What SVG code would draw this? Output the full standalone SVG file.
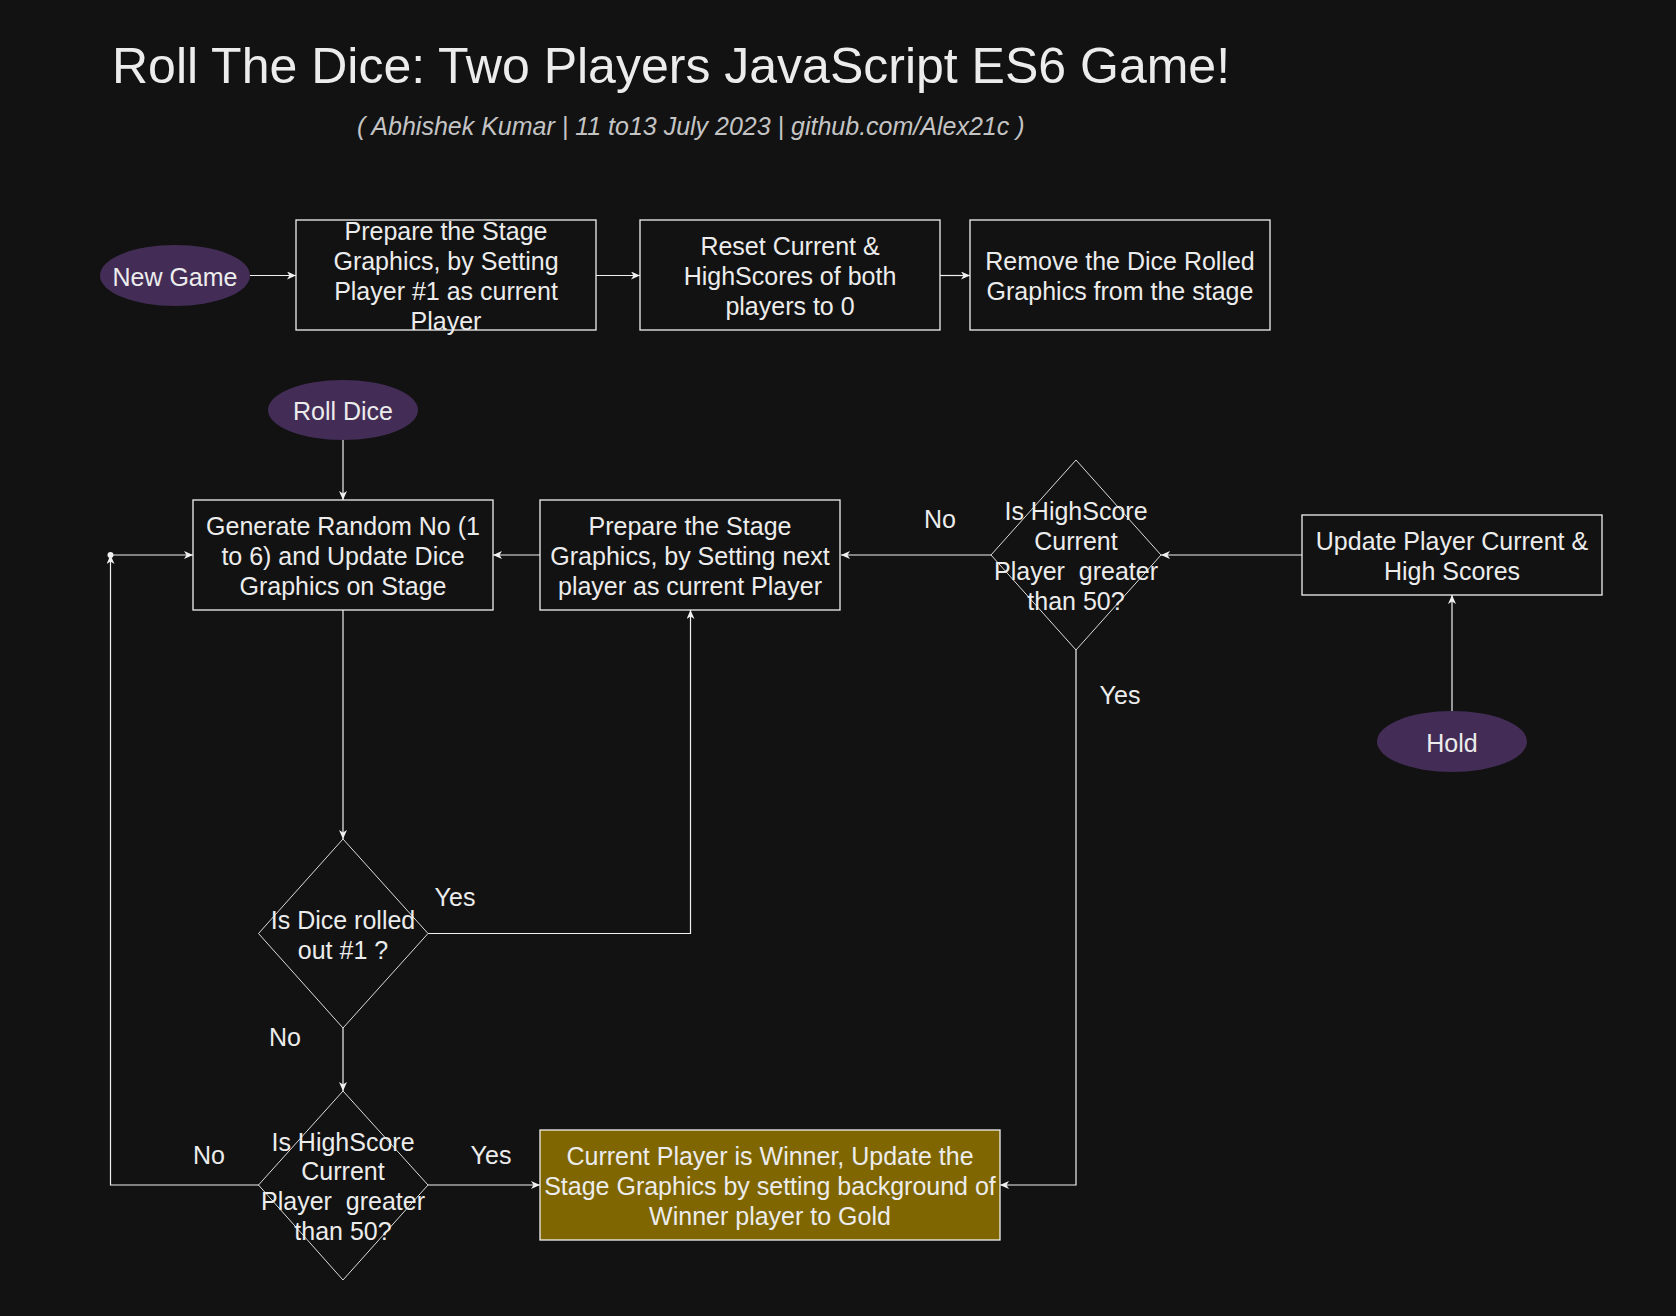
<svg xmlns="http://www.w3.org/2000/svg" width="1676" height="1316" viewBox="0 0 1676 1316">
<style>
  text { font-family: "Liberation Sans", Arial, sans-serif; fill: #ececec; text-anchor: middle; }
  .t { font-size: 25px; }
  .title { font-size: 50px; text-anchor: start; }
  .sub { font-size: 25px; font-style: italic; fill: #c4c4c4; text-anchor: start; }
  .box { fill: #121212; stroke: #f0f0f0; stroke-width: 1.3; }
  .dia { fill: none; stroke: #dcdcdc; stroke-width: 1; }
  .ell { fill: #432d57; stroke: none; }
  .gold { fill: #7f6600; stroke: #f0f0f0; stroke-width: 1.3; }
  .edge { fill: none; stroke: #f0f0f0; stroke-width: 1.2; }
  .arr { marker-end: url(#ah); }
</style>
<defs>
  <marker id="ah" markerWidth="10" markerHeight="8" refX="9" refY="4" orient="auto" markerUnits="userSpaceOnUse">
    <path d="M0,0 L9,4 L0,8 L2.5,4 Z" fill="#f0f0f0"/>
  </marker>
</defs>
<rect width="1676" height="1316" fill="#121212"/>

<text class="title" x="112" y="83">Roll The Dice: Two Players JavaScript ES6 Game!</text>
<text class="sub" x="357" y="135">( Abhishek Kumar | 11 to13 July 2023 | github.com/Alex21c )</text>

<g id="connectors">
  <line class="edge arr" x1="250" y1="275.5" x2="296" y2="275.5"/>
  <line class="edge arr" x1="596" y1="275.5" x2="640" y2="275.5"/>
  <line class="edge arr" x1="940" y1="275.5" x2="970" y2="275.5"/>
  <line class="edge arr" x1="343" y1="440" x2="343" y2="500"/>
  <line class="edge arr" x1="540" y1="555" x2="493" y2="555"/>
  <line class="edge arr" x1="991" y1="555" x2="841" y2="555"/>
  <line class="edge arr" x1="1302" y1="555" x2="1161" y2="555"/>
  <line class="edge arr" x1="1452" y1="711" x2="1452" y2="595"/>
  <line class="edge arr" x1="343" y1="610" x2="343" y2="839"/>
  <polyline class="edge arr" points="428,933.5 690.5,933.5 690.5,610"/>
  <line class="edge arr" x1="343" y1="1028" x2="343" y2="1091"/>
  <line class="edge arr" x1="428" y1="1185" x2="540" y2="1185"/>
  <polyline class="edge arr" points="1076,650 1076,1185 1000,1185"/>
  <polyline class="edge arr" points="259,1185 110.5,1185 110.5,555"/>
  <circle cx="110.5" cy="555" r="3" fill="#f0f0f0"/>
  <line class="edge arr" x1="110.5" y1="555" x2="193" y2="555"/>
  <text class="t" x="940" y="528">No</text>
  <text class="t" x="1120" y="704">Yes</text>
  <text class="t" x="455" y="906">Yes</text>
  <text class="t" x="285" y="1046">No</text>
  <text class="t" x="209" y="1164">No</text>
  <text class="t" x="491" y="1164">Yes</text>
</g>

<g id="new-game">
  <ellipse class="ell" cx="175" cy="275.5" rx="75" ry="30.5"/>
  <text class="t" x="175" y="285.5">New Game</text>
</g>
<g id="prepare-stage-1">
  <rect class="box" x="296" y="220" width="300" height="110"/>
  <text class="t" x="446" y="240">Prepare the Stage</text>
  <text class="t" x="446" y="270">Graphics, by Setting</text>
  <text class="t" x="446" y="300">Player #1 as current</text>
  <text class="t" x="446" y="330">Player</text>
</g>
<g id="reset-scores">
  <rect class="box" x="640" y="220" width="300" height="110"/>
  <text class="t" x="790" y="255">Reset Current &amp;</text>
  <text class="t" x="790" y="285">HighScores of both</text>
  <text class="t" x="790" y="315">players to 0</text>
</g>
<g id="remove-dice">
  <rect class="box" x="970" y="220" width="300" height="110"/>
  <text class="t" x="1120" y="270">Remove the Dice Rolled</text>
  <text class="t" x="1120" y="300">Graphics from the stage</text>
</g>
<g id="roll-dice">
  <ellipse class="ell" cx="343" cy="410" rx="75" ry="30"/>
  <text class="t" x="343" y="420">Roll Dice</text>
</g>
<g id="generate-random">
  <rect class="box" x="193" y="500" width="300" height="110"/>
  <text class="t" x="343" y="535">Generate Random No (1</text>
  <text class="t" x="343" y="565">to 6) and Update Dice</text>
  <text class="t" x="343" y="595">Graphics on Stage</text>
</g>
<g id="prepare-next">
  <rect class="box" x="540" y="500" width="300" height="110"/>
  <text class="t" x="690" y="535">Prepare the Stage</text>
  <text class="t" x="690" y="565">Graphics, by Setting next</text>
  <text class="t" x="690" y="595">player as current Player</text>
</g>
<g id="highscore-check-hold">
  <polygon class="dia" points="1076,460 1161,555 1076,650 991,555"/>
  <text class="t" x="1076" y="520">Is HighScore</text>
  <text class="t" x="1076" y="550">Current</text>
  <text class="t" x="1076" y="580" xml:space="preserve">Player  greater</text>
  <text class="t" x="1076" y="610">than 50?</text>
</g>
<g id="update-scores">
  <rect class="box" x="1302" y="515" width="300" height="80"/>
  <text class="t" x="1452" y="550">Update Player Current &amp;</text>
  <text class="t" x="1452" y="580">High Scores</text>
</g>
<g id="hold">
  <ellipse class="ell" cx="1452" cy="741.5" rx="75" ry="30.5"/>
  <text class="t" x="1452" y="751.5">Hold</text>
</g>
<g id="dice-one-check">
  <polygon class="dia" points="343,839 428,933.5 343,1028 258.5,933.5"/>
  <text class="t" x="343" y="928.5">Is Dice rolled</text>
  <text class="t" x="343" y="958.5">out #1 ?</text>
</g>
<g id="highscore-check-roll">
  <polygon class="dia" points="343,1091 428,1185 343,1280 258.5,1185"/>
  <text class="t" x="343" y="1151">Is HighScore</text>
  <text class="t" x="343" y="1180">Current</text>
  <text class="t" x="343" y="1210" xml:space="preserve">Player  greater</text>
  <text class="t" x="343" y="1240">than 50?</text>
</g>
<g id="winner">
  <rect class="gold" x="540" y="1130" width="460" height="110"/>
  <text class="t" x="770" y="1165">Current Player is Winner, Update the</text>
  <text class="t" x="770" y="1195">Stage Graphics by setting background of</text>
  <text class="t" x="770" y="1225">Winner player to Gold</text>
</g>
</svg>
